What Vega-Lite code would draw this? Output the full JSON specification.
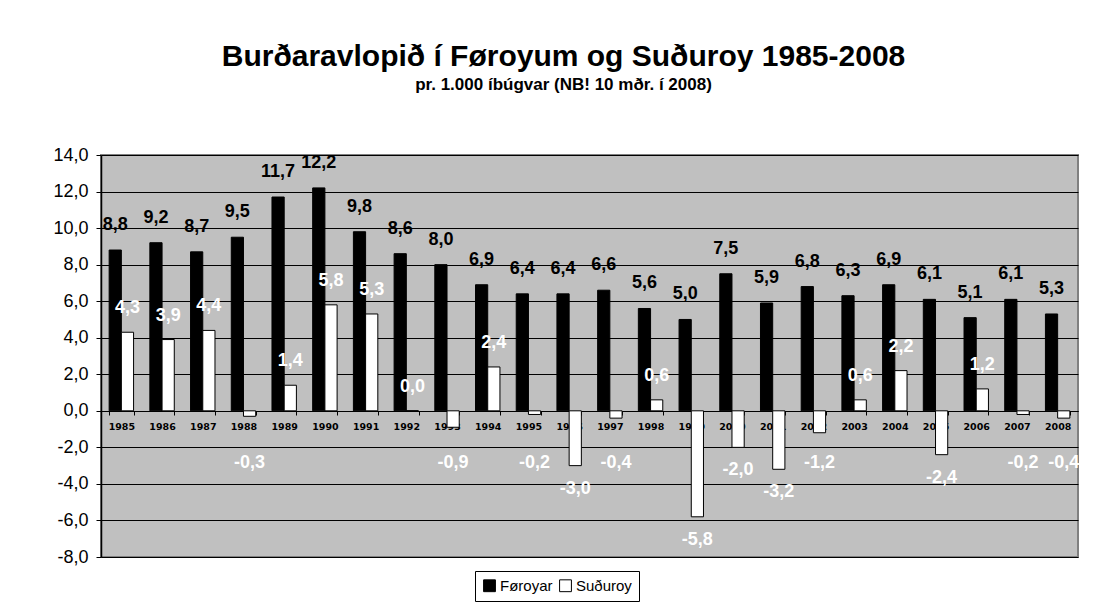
{
  "$schema": "https://vega.github.io/schema/vega-lite/v6.json",
  "width": 977,
  "height": 402,
  "autosize": {"type": "none"},
  "padding": {"left": 101, "top": 155, "right": 26, "bottom": 56},
  "background": "white",
  "title": {
    "text": "Burðaravlopið í Føroyum og Suðuroy 1985-2008",
    "subtitle": "pr. 1.000 íbúgvar (NB! 10 mðr. í 2008)",
    "font": "Liberation Sans", "fontSize": 30, "fontWeight": "bold", "color": "black",
    "subtitleFont": "Liberation Sans", "subtitleFontSize": 17, "subtitleFontWeight": "bold", "subtitleColor": "black",
    "anchor": "middle", "dx": -26, "offset": 53, "subtitlePadding": 5
  },
  "datasets": {
    "births": [
      {"year": "1985", "series": "Føroyar", "value": 8.8}, {"year": "1985", "series": "Suðuroy", "value": 4.3},
      {"year": "1986", "series": "Føroyar", "value": 9.2}, {"year": "1986", "series": "Suðuroy", "value": 3.9},
      {"year": "1987", "series": "Føroyar", "value": 8.7}, {"year": "1987", "series": "Suðuroy", "value": 4.4},
      {"year": "1988", "series": "Føroyar", "value": 9.5}, {"year": "1988", "series": "Suðuroy", "value": -0.3},
      {"year": "1989", "series": "Føroyar", "value": 11.7}, {"year": "1989", "series": "Suðuroy", "value": 1.4},
      {"year": "1990", "series": "Føroyar", "value": 12.2}, {"year": "1990", "series": "Suðuroy", "value": 5.8},
      {"year": "1991", "series": "Føroyar", "value": 9.8}, {"year": "1991", "series": "Suðuroy", "value": 5.3},
      {"year": "1992", "series": "Føroyar", "value": 8.6}, {"year": "1992", "series": "Suðuroy", "value": 0.0},
      {"year": "1993", "series": "Føroyar", "value": 8.0}, {"year": "1993", "series": "Suðuroy", "value": -0.9},
      {"year": "1994", "series": "Føroyar", "value": 6.9}, {"year": "1994", "series": "Suðuroy", "value": 2.4},
      {"year": "1995", "series": "Føroyar", "value": 6.4}, {"year": "1995", "series": "Suðuroy", "value": -0.2},
      {"year": "1996", "series": "Føroyar", "value": 6.4}, {"year": "1996", "series": "Suðuroy", "value": -3.0},
      {"year": "1997", "series": "Føroyar", "value": 6.6}, {"year": "1997", "series": "Suðuroy", "value": -0.4},
      {"year": "1998", "series": "Føroyar", "value": 5.6}, {"year": "1998", "series": "Suðuroy", "value": 0.6},
      {"year": "1999", "series": "Føroyar", "value": 5.0}, {"year": "1999", "series": "Suðuroy", "value": -5.8},
      {"year": "2000", "series": "Føroyar", "value": 7.5}, {"year": "2000", "series": "Suðuroy", "value": -2.0},
      {"year": "2001", "series": "Føroyar", "value": 5.9}, {"year": "2001", "series": "Suðuroy", "value": -3.2},
      {"year": "2002", "series": "Føroyar", "value": 6.8}, {"year": "2002", "series": "Suðuroy", "value": -1.2},
      {"year": "2003", "series": "Føroyar", "value": 6.3}, {"year": "2003", "series": "Suðuroy", "value": 0.6},
      {"year": "2004", "series": "Føroyar", "value": 6.9}, {"year": "2004", "series": "Suðuroy", "value": 2.2},
      {"year": "2005", "series": "Føroyar", "value": 6.1}, {"year": "2005", "series": "Suðuroy", "value": -2.4},
      {"year": "2006", "series": "Føroyar", "value": 5.1}, {"year": "2006", "series": "Suðuroy", "value": 1.2},
      {"year": "2007", "series": "Føroyar", "value": 6.1}, {"year": "2007", "series": "Suðuroy", "value": -0.2},
      {"year": "2008", "series": "Føroyar", "value": 5.3}, {"year": "2008", "series": "Suðuroy", "value": -0.4}
    ]
  },
  "data": {"name": "births"},
  "encoding": {
    "x": {
      "field": "year", "type": "ordinal",
      "scale": {"paddingInner": 0.4, "paddingOuter": 0.2},
      "axis": {
        "title": null, "offset": -146, "labelAngle": 0,
        "labelFont": "DejaVu Sans", "labelFontSize": 9.5, "labelFontWeight": "bold", "labelColor": "black",
        "domainColor": "black", "domainWidth": 1, "tickColor": "black", "tickBand": "extent", "tickSize": 4,
        "labelPadding": 6, "labelOverlap": false, "grid": false
      }
    },
    "xOffset": {"field": "series", "type": "nominal", "scale": {"domain": ["Føroyar", "Suðuroy"], "paddingInner": 0, "paddingOuter": 0}},
    "y": {
      "field": "value", "type": "quantitative",
      "scale": {"domain": [-8, 14], "nice": false, "zero": false},
      "axis": {
        "values": [-8, -6, -4, -2, 0, 2, 4, 6, 8, 10, 12, 14], "format": ".1f", "title": null,
        "grid": true, "gridColor": "black", "gridWidth": 1, "gridOpacity": 1,
        "domainColor": "black", "domainWidth": 1.5, "tickColor": "black", "tickSize": 5,
        "labelFont": "Liberation Sans", "labelFontSize": 18, "labelColor": "black", "labelPadding": 8
      }
    }
  },
  "layer": [
    {
      "mark": {"type": "bar", "stroke": "black", "strokeWidth": 1},
      "encoding": {
        "color": {
          "field": "series", "type": "nominal",
          "scale": {"domain": ["Føroyar", "Suðuroy"], "range": ["black", "white"]},
          "legend": {
            "title": null, "orient": "none", "legendX": 374, "legendY": 416, "direction": "horizontal",
            "symbolType": "square", "symbolSize": 140, "symbolStrokeColor": "black", "symbolStrokeWidth": 1,
            "labelFont": "Liberation Sans", "labelFontSize": 15, "labelColor": "black",
            "strokeColor": "black", "fillColor": "white", "padding": 7, "columnPadding": 4, "labelOffset": 3
          }
        }
      }
    },
    {
      "transform": [{"filter": "datum.series == 'Føroyar'"}],
      "mark": {"type": "text", "font": "Liberation Sans", "fontSize": 18, "fontWeight": "bold", "fill": "black", "baseline": "middle", "dy": -25},
      "encoding": {"text": {"field": "value", "type": "quantitative", "format": ".1f"}}
    },
    {
      "transform": [{"filter": "datum.series == 'Suðuroy' && datum.value >= 0"}],
      "mark": {"type": "text", "font": "Liberation Sans", "fontSize": 18, "fontWeight": "bold", "fill": "white", "baseline": "middle", "dy": -24},
      "encoding": {"text": {"field": "value", "type": "quantitative", "format": ".1f"}}
    },
    {
      "transform": [{"filter": "datum.series == 'Suðuroy' && datum.value <= -2"}],
      "mark": {"type": "text", "font": "Liberation Sans", "fontSize": 18, "fontWeight": "bold", "fill": "white", "baseline": "middle", "dy": 23},
      "encoding": {"text": {"field": "value", "type": "quantitative", "format": ".1f"}}
    },
    {
      "transform": [{"filter": "datum.series == 'Suðuroy' && datum.value < 0 && datum.value > -2"}],
      "mark": {"type": "text", "font": "Liberation Sans", "fontSize": 18, "fontWeight": "bold", "fill": "white", "baseline": "middle"},
      "encoding": {
        "y": {"datum": -2.85, "type": "quantitative"},
        "text": {"field": "value", "type": "quantitative", "format": ".1f"}
      }
    }
  ],
  "config": {
    "view": {"fill": "#C0C0C0", "stroke": "#808080", "strokeWidth": 2},
    "locale": {"number": {"decimal": ",", "thousands": ".", "grouping": [3], "currency": ["", ""], "minus": "-"}}
  }
}
